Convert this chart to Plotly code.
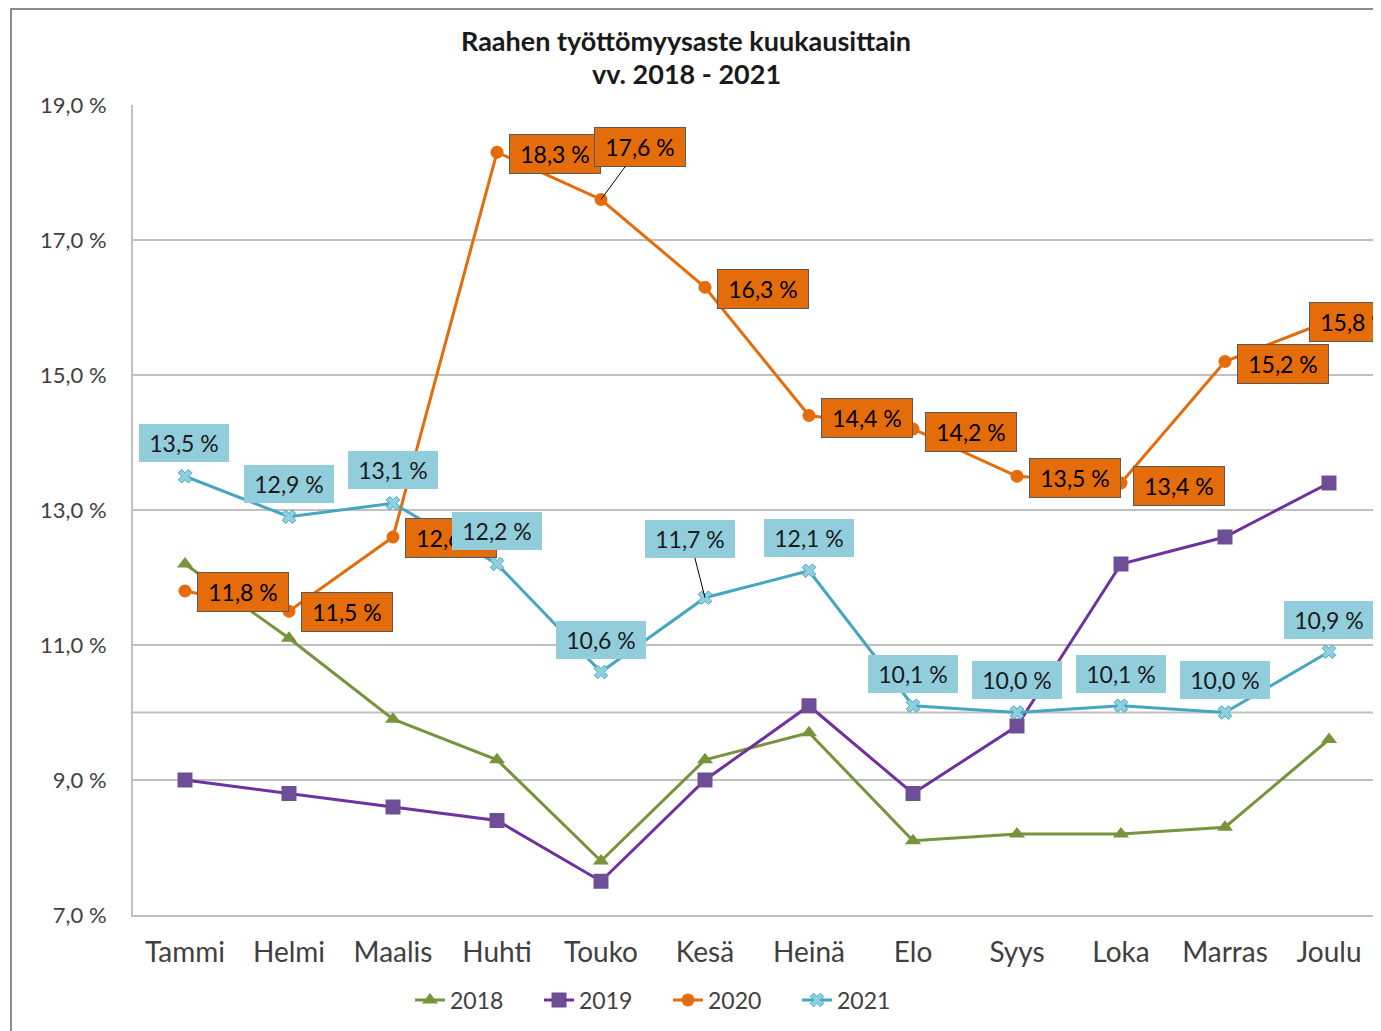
import plotly.graph_objects as go

months = ["Tammi", "Helmi", "Maalis", "Huhti", "Touko", "Kesä", "Heinä", "Elo", "Syys", "Loka", "Marras", "Joulu"]
y2018 = [12.2, 11.1, 9.9, 9.3, 7.8, 9.3, 9.7, 8.1, 8.2, 8.2, 8.3, 9.6]
y2019 = [9.0, 8.8, 8.6, 8.4, 7.5, 9.0, 10.1, 8.8, 9.8, 12.2, 12.6, 13.4]
y2020 = [11.8, 11.5, 12.6, 18.3, 17.6, 16.3, 14.4, 14.2, 13.5, 13.4, 15.2, 15.8]
y2021 = [13.5, 12.9, 13.1, 12.2, 10.6, 11.7, 12.1, 10.1, 10.0, 10.1, 10.0, 10.9]
ytick_vals = [7, 9, 11, 13, 15, 17, 19]
ytick_text = ["7,0 %", "9,0 %", "11,0 %", "13,0 %", "15,0 %", "17,0 %", "19,0 %"]
title_lines = ["Raahen työttömyysaste kuukausittain", "vv. 2018 - 2021"]

# label offsets (pixels) -- styling only
off2020 = [(58, 1), (58, 1), (58, 1), (58, 2), (39, -53), (58, 2), (58, 2), (58, 3), (58, 2), (58, 3), (58, 2), (26, 1)]
lead2020 = [False, False, False, False, True, False, False, False, False, False, False, False]
off2021 = [(-1, -33), (0, -33), (0, -33), (0, -33), (0, -32), (-15, -59), (0, -33), (0, -32), (0, -33), (0, -32), (0, -33), (0, -32)]
lead2021 = [False, False, False, False, False, True, False, False, False, False, False, False]

FONT = "Lato"
OFF = 8  # page body margin
W, H = 1381 - OFF, 1031 - OFF
ML, MR, MT, MB = 133 - OFF, 0, 105 - OFF, 116
PW, PH = W - ML - MR, H - MT - MB


def px2paper_x(px):  # px: page coordinate
    return (px - OFF - ML) / PW


def px2paper_y(py):
    return (H - MB - (py - OFF)) / PH


def fmt(v):
    return f"{v:.1f}".replace(".", ",") + " %"


fig = go.Figure()
fig.add_trace(go.Scatter(x=months, y=y2018, name="2018", mode="lines+markers",
                         line=dict(color="#77933C", width=3),
                         marker=dict(symbol="triangle-up", size=14, color="#77933C")))
fig.add_trace(go.Scatter(x=months, y=y2019, name="2019", mode="lines+markers",
                         line=dict(color="#7030A0", width=3),
                         marker=dict(symbol="square", size=15, color="#6E4E97")))
fig.add_trace(go.Scatter(x=months, y=y2020, name="2020", mode="lines+markers",
                         line=dict(color="#E46C0A", width=3),
                         marker=dict(symbol="circle", size=13, color="#E46C0A")))
fig.add_trace(go.Scatter(x=months, y=y2021, name="2021", mode="lines+markers",
                         line=dict(color="#46A5C0", width=3),
                         marker=dict(symbol="x", size=12, color="#8FD0E0",
                                     line=dict(color="#46A5C0", width=1))))

annotations = []
for i, (m, v) in enumerate(zip(months, y2020)):
    ax, ay = off2020[i]
    annotations.append(dict(
        x=m, y=v, xref="x", yref="y", text=fmt(v), showarrow=True,
        ax=ax, ay=ay, arrowhead=0, arrowwidth=1, standoff=0,
        arrowcolor="#000000" if lead2020[i] else "rgba(0,0,0,0)",
        bgcolor="#E46C0A", bordercolor="#595959", borderwidth=1, borderpad=5,
        width=80, font=dict(family=FONT, size=23, color="#000000")))
for i, (m, v) in enumerate(zip(months, y2021)):
    ax, ay = off2021[i]
    annotations.append(dict(
        x=m, y=v, xref="x", yref="y", text=fmt(v), showarrow=True,
        ax=ax, ay=ay, arrowhead=0, arrowwidth=1, standoff=0,
        arrowcolor="#000000" if lead2021[i] else "rgba(0,0,0,0)",
        bgcolor="#92CDDC", borderwidth=0, borderpad=5,
        width=80, font=dict(family=FONT, size=23, color="#1a1a1a")))

# title as two centred lines
for txt, py in zip(title_lines, [40, 74]):
    annotations.append(dict(
        x=px2paper_x(686), y=px2paper_y(py), xref="paper", yref="paper",
        xanchor="center", yanchor="middle", showarrow=False,
        text=f"<b>{txt}</b>", font=dict(family=FONT, size=27, color="#1a1a1a")))

shapes = [
    # extra gridline at 10 %
    dict(type="line", xref="paper", yref="y", x0=0, x1=1, y0=10, y1=10,
         line=dict(color="#C0C0C0", width=2), layer="below"),
    # outer chart border
    dict(type="rect", xref="paper", yref="paper",
         x0=px2paper_x(11), x1=px2paper_x(1400), y0=px2paper_y(1045), y1=px2paper_y(9),
         line=dict(color="#8C8C8C", width=2), fillcolor="rgba(0,0,0,0)", layer="above"),
]

fig.update_layout(
    width=W, height=H,
    margin=dict(l=ML, r=MR, t=MT, b=MB),
    paper_bgcolor="white", plot_bgcolor="white",
    font=dict(family=FONT, color="#595959"),
    xaxis=dict(type="category", range=[-0.5, 11.5], showgrid=False,
               showline=True, linecolor="#C0C0C0", linewidth=2,
               ticks="", tickfont=dict(family=FONT, size=28, color="#404040"),
               ticklabelstandoff=11, fixedrange=True),
    yaxis=dict(range=[7, 19], tickvals=ytick_vals, ticktext=ytick_text,
               showgrid=True, gridcolor="#C0C0C0", gridwidth=2,
               showline=True, linecolor="#C0C0C0", linewidth=2, zeroline=False,
               ticks="", tickfont=dict(family=FONT, size=22, color="#404040"),
               ticklabelstandoff=20, fixedrange=True),
    legend=dict(orientation="h", x=px2paper_x(668), xanchor="center",
                y=px2paper_y(1000), yanchor="middle",
                font=dict(family=FONT, size=23, color="#404040"),
                entrywidth=84, entrywidthmode="pixels", itemwidth=30),
    annotations=annotations,
    shapes=shapes,
    showlegend=True,
)

fig.write_html("out.html")
